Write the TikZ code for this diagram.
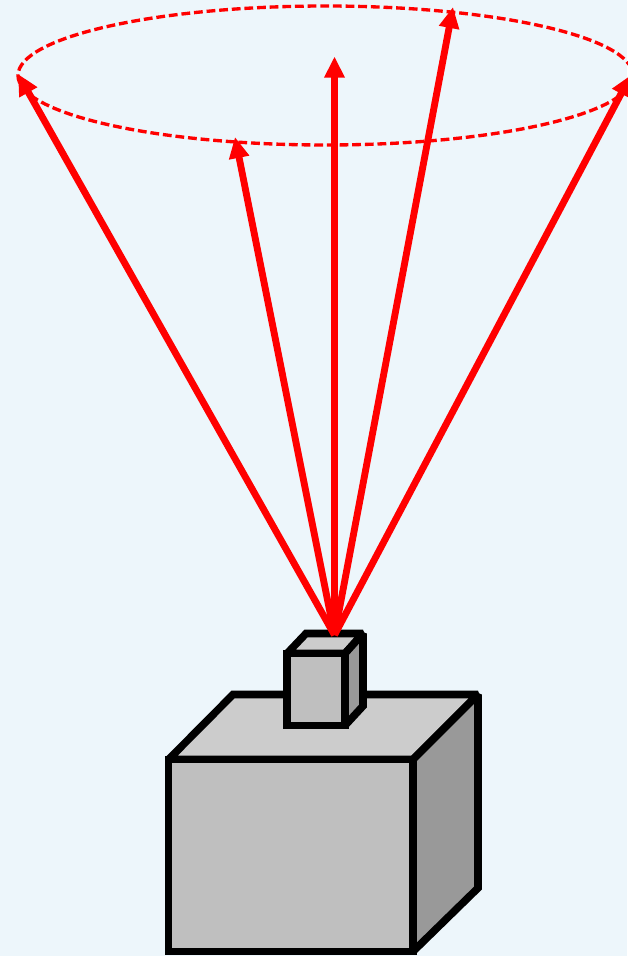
\documentclass[tikz,border=0pt]{standalone}
\usepackage{tikz}
\usetikzlibrary{arrows.meta}
\definecolor{skybg}{HTML}{EDF6FB}
\definecolor{facefront}{HTML}{BFBFBF}
\definecolor{facetop}{HTML}{CCCCCC}
\definecolor{faceside}{HTML}{999999}
\tikzset{
  boxface/.style={draw=black, line width=4.3pt, line join=miter, miter limit=1.5},
  ray/.style={draw=red, line width=3.9pt, -{Triangle[length=12pt, width=11pt]}},
  rim/.style={draw=red, line width=1.9pt, dash pattern=on 5pt off 2.2pt}
}

\begin{document}
\begin{tikzpicture}[x=0.02cm, y=-0.02cm]
  \useasboundingbox[fill=skybg] (0,0) rectangle (627,956);
  % large box
  \filldraw[boxface, fill=facetop] (168.5,759.5) -- (233,694.5) -- (478,694.5) -- (413,759.5) -- cycle;
  \filldraw[boxface, fill=faceside] (413,759.5) -- (478,694.5) -- (478,888) -- (413,951.5) -- cycle;
  \filldraw[boxface, fill=facefront] (168.5,759.5) rectangle (413,951.5);
  % small box on top
  \filldraw[boxface, fill=facetop] (287,653.5) -- (306,633.5) -- (363,633.5) -- (345,653.5) -- cycle;
  \filldraw[boxface, fill=faceside] (345,653.5) -- (363,633.5) -- (363,706) -- (345,725.5) -- cycle;
  \filldraw[boxface, fill=facefront] (287,653.5) rectangle (345,725.5);
  % dashed rim of the cone
  \draw[rim] (325.5,75.5) ellipse [x radius=307.5, y radius=69.5];
  % rays
  \coordinate (apex) at (334.5,635);
  \coordinate (tipleft) at (18,74);
  \coordinate (tipfront) at (235,137);
  \coordinate (tipmid) at (334.5,56.5);
  \coordinate (tipback) at (453,7);
  \coordinate (tipright) at (631,75);
  \foreach \tip in {tipleft, tipfront, tipmid, tipback, tipright}
    \draw[ray] (apex) -- (\tip);
\end{tikzpicture}
\end{document}
